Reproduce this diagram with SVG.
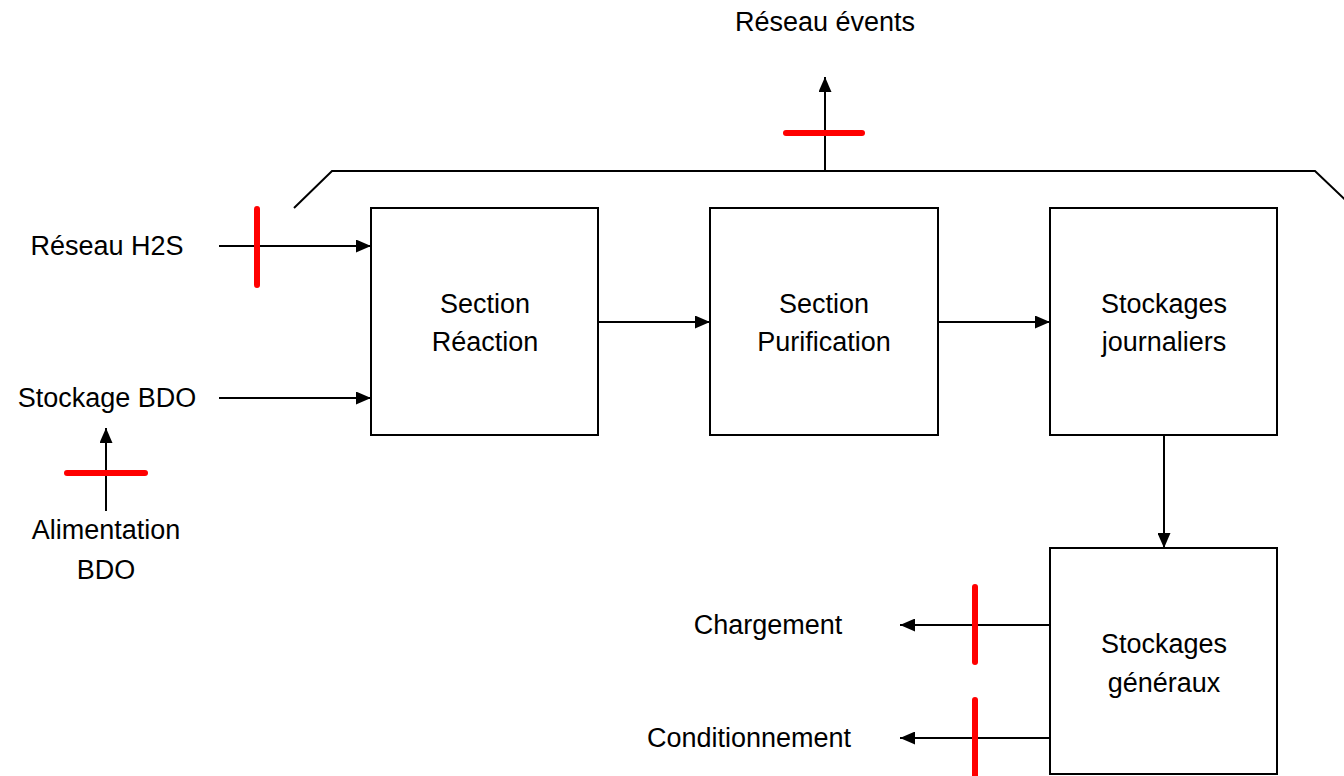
<svg xmlns="http://www.w3.org/2000/svg" width="1344" height="776" viewBox="0 0 1344 776">
<style>
.box{fill:#fff;stroke:#000;stroke-width:2}
.ln{fill:none;stroke:#000;stroke-width:2}
.red{stroke:#ff0000;stroke-width:6;stroke-linecap:round}
text{font-family:"Liberation Sans",Arial,sans-serif;font-size:27px;fill:#000;text-anchor:middle;dominant-baseline:central}
</style>
<defs>
<marker id="ah" viewBox="0 0 15 13" refX="15" refY="6.5" markerWidth="15" markerHeight="13" markerUnits="userSpaceOnUse" orient="auto">
<path d="M0,0 L15,6.5 L0,13 Z" fill="#000"/>
</marker>
</defs>
<rect width="1344" height="776" fill="#fff"/>
<g id="connectors">
<polyline class="ln" points="294,208 332,171 1315,171 1356,210"/>
<line class="ln" x1="825" y1="171" x2="825" y2="77" marker-end="url(#ah)"/>
<line class="ln" x1="219" y1="246" x2="371" y2="246" marker-end="url(#ah)"/>
<line class="ln" x1="219" y1="398" x2="371" y2="398" marker-end="url(#ah)"/>
<line class="ln" x1="106" y1="511" x2="106" y2="428" marker-end="url(#ah)"/>
<line class="ln" x1="598" y1="322" x2="710" y2="322" marker-end="url(#ah)"/>
<line class="ln" x1="938" y1="322" x2="1050" y2="322" marker-end="url(#ah)"/>
<line class="ln" x1="1164" y1="435" x2="1164" y2="548" marker-end="url(#ah)"/>
<line class="ln" x1="1050" y1="625" x2="900" y2="625" marker-end="url(#ah)"/>
<line class="ln" x1="1050" y1="738" x2="900" y2="738" marker-end="url(#ah)"/>
<line class="red" x1="786" y1="133" x2="862" y2="133"/>
<line class="red" x1="257" y1="209" x2="257" y2="285"/>
<line class="red" x1="67" y1="473" x2="145" y2="473"/>
<line class="red" x1="975" y1="587" x2="975" y2="662"/>
<line class="red" x1="975" y1="700" x2="975" y2="780"/>
</g>
<g id="reaction"><rect class="box" x="371" y="208" width="227" height="227"/><text x="485" y="304">Section</text><text x="485" y="342">Réaction</text></g>
<g id="purification"><rect class="box" x="710" y="208" width="228" height="227"/><text x="824" y="304">Section</text><text x="824" y="342">Purification</text></g>
<g id="journaliers"><rect class="box" x="1050" y="208" width="227" height="227"/><text x="1164" y="304">Stockages</text><text x="1164" y="342">journaliers</text></g>
<g id="generaux"><rect class="box" x="1050" y="548" width="227" height="226"/><text x="1164" y="644">Stockages</text><text x="1164" y="683">généraux</text></g>
<g id="labels">
<text x="825" y="22">Réseau évents</text>
<text x="107" y="246">Réseau H2S</text>
<text x="107" y="398">Stockage BDO</text>
<text x="106" y="530">Alimentation</text>
<text x="106" y="570">BDO</text>
<text x="768" y="625">Chargement</text>
<text x="749" y="738">Conditionnement</text>
</g>
</svg>
